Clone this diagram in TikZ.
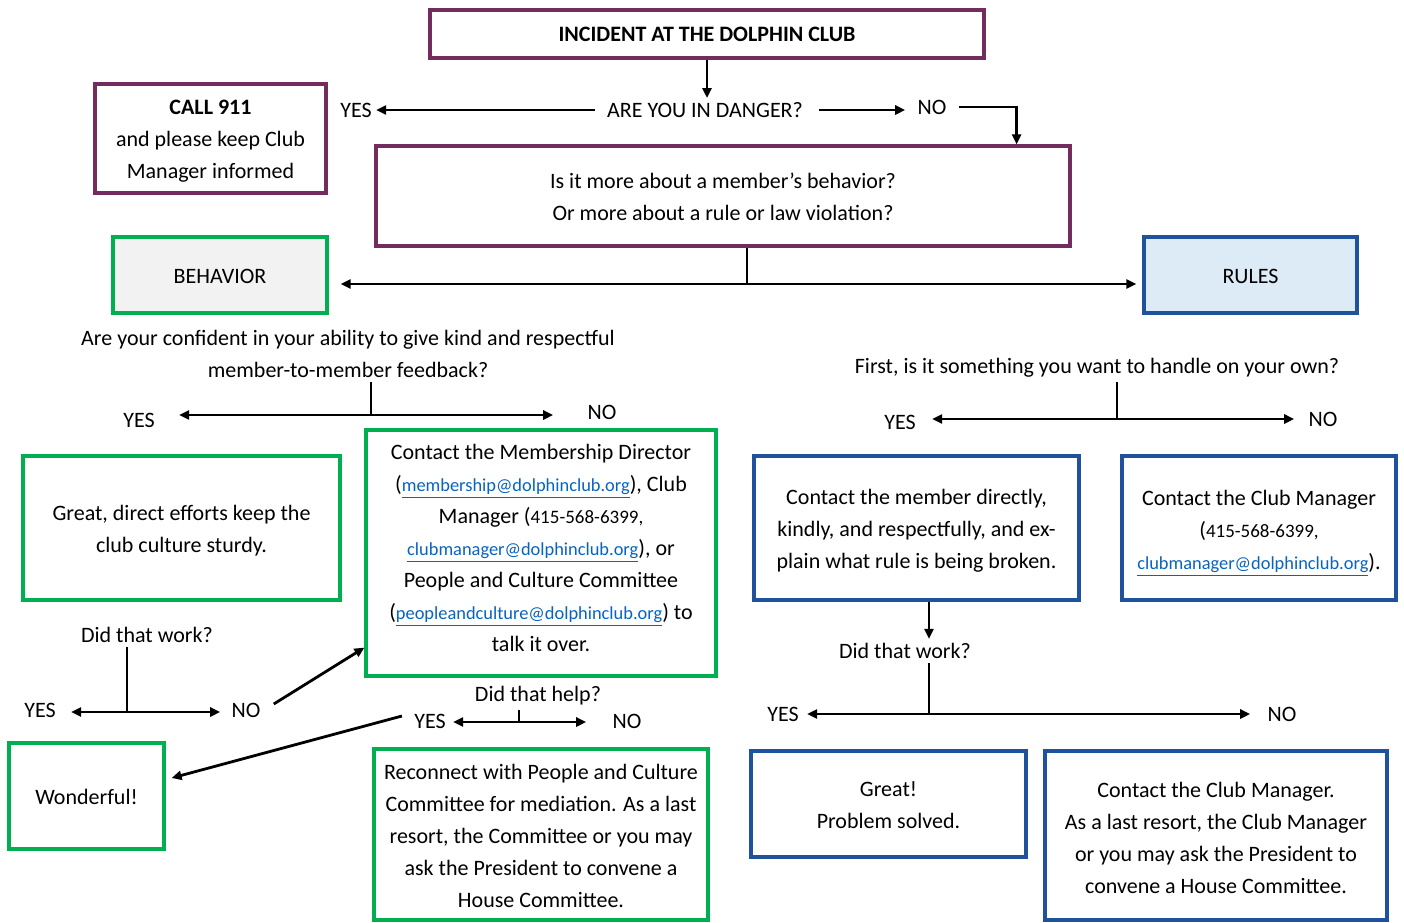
\documentclass[tikz,border=0pt]{standalone}
\usepackage{fontspec}
\setmainfont{Carlito}
\usetikzlibrary{arrows.meta,calc}
\definecolor{purp}{HTML}{742B5E}
\definecolor{grn}{HTML}{00B050}
\definecolor{blu}{HTML}{1F529C}
\definecolor{lnk}{HTML}{0563C1}
\definecolor{bgray}{HTML}{F2F2F2}
\definecolor{lblue}{HTML}{DDEBF7}
\newcommand{\lk}[1]{{\fontsize{9.2}{16}\selectfont\color{lnk}\underline{#1}}}
\newcommand{\ph}[1]{{\fontsize{9.5}{16}\selectfont #1}}
\begin{document}
\begin{tikzpicture}[x=0.5pt,y=-0.5pt, font=\fontsize{11}{16}\selectfont,
  box/.style={draw, line width=1.6pt, inner sep=0pt},
  pbox/.style={box, draw=purp}, gbox/.style={box, draw=grn}, bbox/.style={box, draw=blu},
  txt/.style={inner sep=0pt, align=center},
  lbl/.style={inner sep=2pt, align=center},
  con/.style={line width=1.4pt},
  arr/.style={con, -{Triangle[length=5pt,width=4.5pt]}},
  arrb/.style={con, {Triangle[length=5pt,width=4.5pt]}-{Triangle[length=5pt,width=4.5pt]}}]
\useasboundingbox (0,0) rectangle (1404,922);
% boxes
\node[pbox, minimum width=277pt, minimum height=24pt] (title) at (707,34) {};
\node[pbox, minimum width=115.5pt, minimum height=54.5pt] (call) at (210.5,138.5) {};
\node[pbox, minimum width=347pt, minimum height=50pt] (q) at (723,196) {};
\node[gbox, fill=bgray, minimum width=107pt, minimum height=38pt] (beh) at (220,275) {};
\node[bbox, fill=lblue, minimum width=106.5pt, minimum height=38pt] (rules) at (1250.5,275) {};
\node[gbox, minimum width=158.5pt, minimum height=72pt] (great1) at (181.5,528) {};
\node[gbox, minimum width=175pt, minimum height=123pt] (mem) at (541,553) {};
\node[gbox, minimum width=77.5pt, minimum height=53pt] (won) at (86.5,796) {};
\node[gbox, minimum width=167pt, minimum height=85.5pt] (rec) at (541,834.5) {};
\node[bbox, minimum width=162.5pt, minimum height=72pt] (cm) at (916.5,528) {};
\node[bbox, minimum width=137pt, minimum height=72pt] (mgr) at (1259,528) {};
\node[bbox, minimum width=137.5pt, minimum height=53pt] (gr2) at (888.5,804) {};
\node[bbox, minimum width=171pt, minimum height=84.5pt] (last) at (1216,835.5) {};
% box texts
\node[txt] (titleT) at (707,34) {\bfseries INCIDENT AT THE DOLPHIN CLUB};
\node[txt] (callT) at (210.5,141.5) {\textbf{CALL 911}\\and please keep Club\\Manager informed};
\node[txt] (qT) at (723,197) {Is it more about a member’s behavior?\\Or more about a rule or law violation?};
\node[txt] (behT) at (220,276) {BEHAVIOR};
\node[txt] (rulesT) at (1250.5,276) {RULES};
\node[txt] (great1T) at (181.5,531) {Great, direct efforts keep the\\club culture sturdy.};
\node[txt] (memT) at (541,547.5) {Contact the Membership Director\\(\lk{membership@dolphinclub.org}), Club\\Manager (\ph{415-568-6399,}\\\lk{clubmanager@dolphinclub.org}), or\\People and Culture Committee\\(\lk{peopleandculture@dolphinclub.org}) to\\talk it over.};
\node[txt] (wonT) at (86.5,797) {Wonderful!};
\node[txt] (recT) at (541,835.5) {Reconnect with People and Culture\\Committee for mediation. As a last\\resort, the Committee or you may\\ask the President to convene a\\House Committee.};
\node[txt] (cmT) at (916.5,531) {Contact the member directly,\\kindly, and respectfully, and ex-\\plain what rule is being broken.};
\node[txt] (mgrT) at (1259,533) {Contact the Club Manager\\(\ph{415-568-6399,}\\\lk{clubmanager@dolphinclub.org}).};
\node[txt] (gr2T) at (888.5,805) {Great!\\Problem solved.};
\node[txt] (lastT) at (1216,837.5) {Contact the Club Manager.\\As a last resort, the Club Manager\\or you may ask the President to\\convene a House Committee.};
% labels
\node[lbl] (danger) at (705,110) {ARE YOU IN DANGER?};
\node[lbl] (yes1) at (356,110) {YES};
\node[lbl] (no1) at (932,107) {NO};
\node[lbl] (qL) at (348,354) {Are your confident in your ability to give kind and respectful\\member-to-member feedback?};
\node[lbl] (yes2) at (139,420) {YES};
\node[lbl] (no2) at (602,412) {NO};
\node[lbl] (qR) at (1097,368) {First, is it something you want to handle on your own?};
\node[lbl] (yes3) at (900,422) {YES};
\node[lbl] (no3) at (1323,419) {NO};
\node[lbl] (dw1) at (147,635) {Did that work?};
\node[lbl] (yes4) at (40,710) {YES};
\node[lbl] (no4) at (246,710) {NO};
\node[lbl] (dh) at (538,696) {Did that help?};
\node[lbl] (yes5) at (430,721) {YES};
\node[lbl] (no5) at (627,721) {NO};
\node[lbl] (dw2) at (905,651) {Did that work?};
\node[lbl] (yes6) at (783,714) {YES};
\node[lbl] (no6) at (1282,714) {NO};
% connectors
\draw[arr] (title.south) -- (title.south |- danger.north);
\draw[arr] ($(danger.west)+(-4pt,0)$) -- (yes1.east);
\draw[arr] ($(danger.east)+(6pt,0)$) -- ($(danger.east -| no1.west)+(-4pt,0)$);
\draw[arr] ($(no1.east)+(4pt,0)$) -| ($(q.north east)+(-27.5pt,0)$);
\coordinate (j1) at (747,284);
\draw[con] (q.south -| j1) -- (j1);
\draw[arrb] ($(beh.east |- j1)+(6pt,0)$) -- ($(rules.west |- j1)+(-3pt,0)$);
\coordinate (j2) at (371,415);
\draw[con] (qL.south -| j2) -- (j2);
\draw[arrb] ($(yes2.east |- j2)+(10pt,0)$) -- ($(no2.west |- j2)+(-15pt,0)$);
\coordinate (j3) at (1117,419);
\draw[con] (qR.south -| j3) -- (j3);
\draw[arrb] ($(yes3.east |- j3)+(6pt,0)$) -- ($(no3.west |- j3)+(-5pt,0)$);
\coordinate (j4) at (127,712);
\draw[con] (dw1.south -| j4) -- (j4);
\draw[arrb] ($(yes4.east |- j4)+(5.5pt,0)$) -- ($(no4.west |- j4)+(-3.5pt,0)$);
\draw[arr] ($(no4.east)+(4.5pt,3pt)$) -- ($(mem.south west)+(0,15pt)$);
\coordinate (j5) at (519,722);
\draw[con] (dh.south -| j5) -- (j5);
\draw[arrb] ($(yes5.east |- j5)+(1.5pt,0)$) -- ($(no5.west |- j5)+(-11pt,0)$);
\draw[arr] ($(yes5.west)+(-4pt,2.5pt)$) -- ($(won.east)+(3pt,9pt)$);
\coordinate (j6) at (929,714);
\draw[arr] (cm.south -| j6) -- (dw2.north -| j6);
\draw[con] (dw2.south -| j6) -- (j6);
\draw[arrb] ($(yes6.east |- j6)+(2pt,0)$) -- ($(no6.west |- j6)+(-6.5pt,0)$);
\end{tikzpicture}
\end{document}
